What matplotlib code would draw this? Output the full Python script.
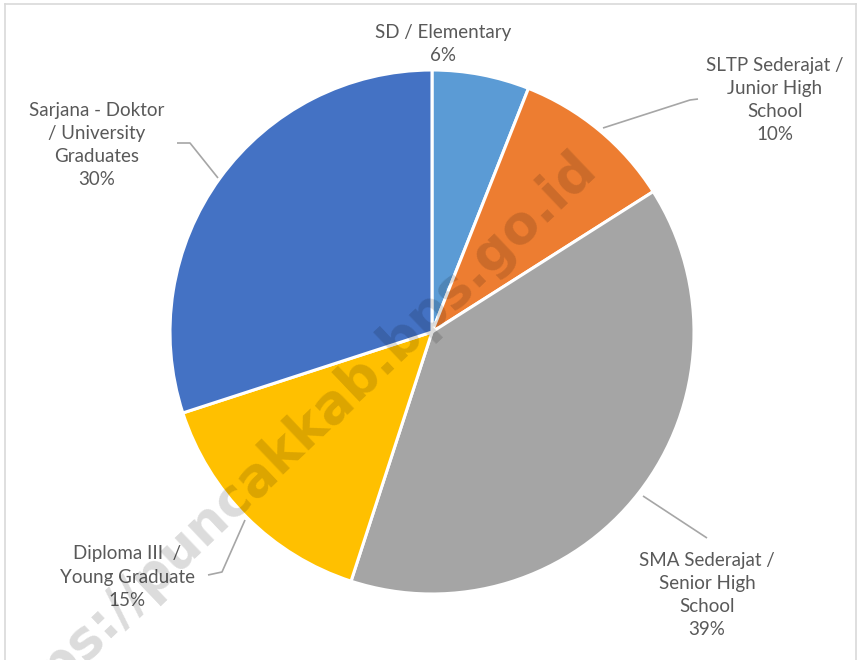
import matplotlib
matplotlib.use("Agg")
import matplotlib.pyplot as plt
from matplotlib.lines import Line2D

categories = ["SD / Elementary", "SLTP Sederajat /\nJunior High\nSchool",
              "SMA Sederajat /\nSenior High\nSchool", "Diploma III  /\nYoung Graduate",
              "Sarjana - Doktor\n/ University\nGraduates"]
values = [6, 10, 39, 15, 30]
colors = ["#5B9BD5", "#ED7D31", "#A5A5A5", "#FFC000", "#4472C4"]

W, H = 860, 660
fig = plt.figure(figsize=(W / 100, H / 100), dpi=100)
ax = fig.add_axes([0, 0, 1, 1])

def py(y):
    return H - y

cx, cy, r = 432, 332, 262
ax.pie(values, colors=colors, startangle=90, counterclock=False,
       center=(cx, py(cy)), radius=r, frame=True,
       wedgeprops=dict(edgecolor="white", linewidth=2.2))
ax.set_xlim(0, W)
ax.set_ylim(0, H)
ax.set_aspect("equal")
ax.axis("off")

# label positions (pixel coords, centre of text block) and leader lines
label_pos = [(443, 44), (775, 100), (707, 595), (127, 577), (97, 145)]
leaders = [None,
           [(603, 128), (690, 100), (698, 99)],
           [(643, 496), (707, 538)],
           [(245, 520), (222, 572), (208, 575)],
           [(218, 178), (190, 143), (177, 143)]]

txtcol = "#595959"
for cat, v, (lx, ly), ld in zip(categories, values, label_pos, leaders):
    ax.text(lx, py(ly), f"{cat}\n{v}%", ha="center", va="center",
            fontsize=13.5, family="Lato", color=txtcol, linespacing=1.45)
    if ld:
        xs = [p[0] for p in ld]
        ys = [py(p[1]) for p in ld]
        ax.plot(xs, ys, color="#a6a6a6", lw=1.2, solid_capstyle="butt")

# frame
fc = "#d9d9d9"
ax.add_line(Line2D([5, 5], [py(4), py(660)], color=fc, lw=1.2))
ax.add_line(Line2D([5, 856], [py(4), py(4)], color=fc, lw=1.2))
ax.add_line(Line2D([856, 856], [py(4), py(660)], color=fc, lw=1.2))

# watermark
ax.text(598, py(171), "https://puncakkab.bps.go.id", rotation=43.6,
        rotation_mode="anchor", ha="right", va="baseline", fontsize=38,
        fontweight="bold", family="DejaVu Sans", color="black", alpha=0.14,
        clip_on=True)

fig.savefig("out.png", dpi=100)
